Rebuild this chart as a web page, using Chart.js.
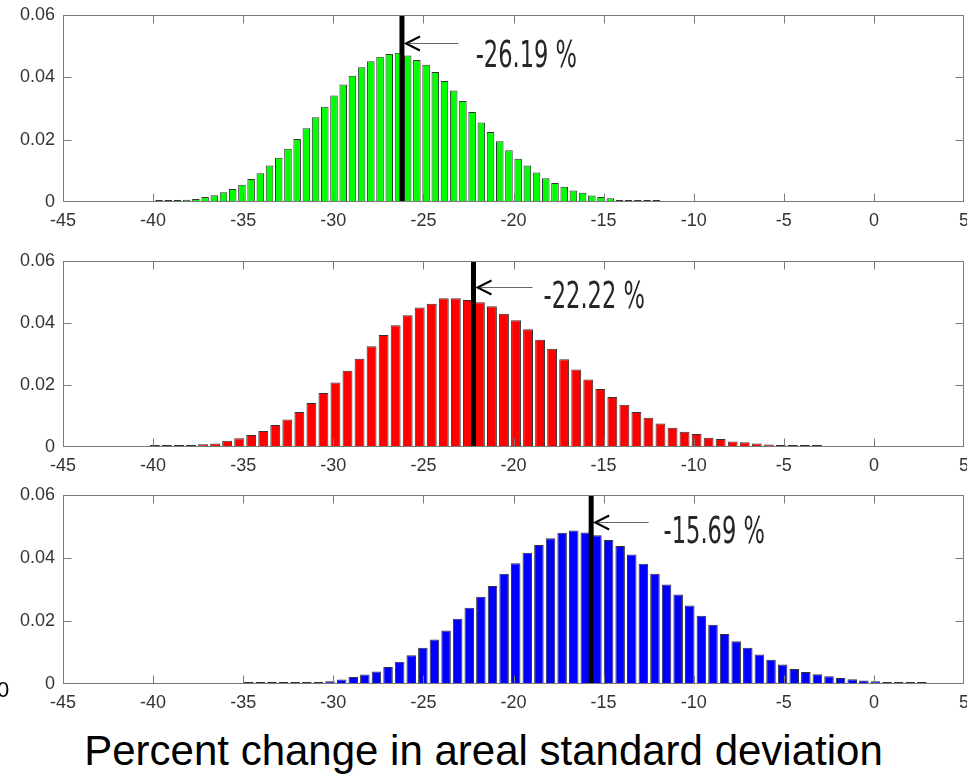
<!DOCTYPE html>
<html>
<head>
<meta charset="utf-8">
<script src="https://cdn.jsdelivr.net/npm/chart.js@4.4.0/dist/chart.umd.min.js"></script>
<style>
  html, body { margin: 0; padding: 0; background: #fff; }
  #wrap { position: relative; width: 967px; height: 776px; overflow: hidden; }
  .panel { position: absolute; left: 0; }
  #title { position: absolute; left: 0; top: 730px; width: 967px; text-align: center;
           font: 42px "Liberation Sans", Arial, sans-serif; line-height: 42px; color: #000; }
  #stray { position: absolute; left: -3px; top: 679px; font: 22px "Liberation Sans", Arial, sans-serif;
           line-height: 22px; color: #000; }
</style>
</head>
<body>
<div id="wrap">
  <canvas id="p1" class="panel" width="967" height="240" style="top:0px"></canvas>
  <canvas id="p2" class="panel" width="967" height="240" style="top:240px"></canvas>
  <canvas id="p3" class="panel" width="967" height="232" style="top:480px"></canvas>
  <div id="stray">0</div>
  <div id="title">Percent change in areal standard deviation</div>
</div>
<script>
// axis ticks shared by all three panels
const xTicks = [-45, -40, -35, -30, -25, -20, -15, -10, -5, 0, 5];
const yTicks = [0, 0.02, 0.04, 0.06];

// top panel (green)
const greenBinStart = -39.67, greenBinWidth = 0.511;
const greenValues = [0.0002,0.0003,0.0005,0.0007,0.0010,0.0016,0.0022,0.0031,0.0042,0.0055,
  0.0074,0.0092,0.0117,0.0142,0.0171,0.0202,0.0237,0.0272,0.0306,0.0342,
  0.0377,0.0405,0.0432,0.0452,0.0466,0.0475,0.0479,0.0470,0.0456,0.0440,
  0.0417,0.0388,0.0358,0.0324,0.0289,0.0255,0.0225,0.0195,0.0166,0.0139,
  0.0117,0.0095,0.0076,0.0061,0.0049,0.0037,0.0030,0.0021,0.0016,0.0012,
  0.0006,0.0004,0.0003,0.0002,0.0002];
const greenMean = -26.19;

// middle panel (red)
const redBinStart = -39.9, redBinWidth = 0.668;
const redValues = [0.0002,0.0002,0.0004,0.0006,0.0009,0.0011,0.0020,0.0028,0.0039,0.0052,
  0.0071,0.0089,0.0113,0.0142,0.0174,0.0208,0.0246,0.0285,0.0325,0.0361,
  0.0393,0.0425,0.0450,0.0462,0.0480,0.0480,0.0474,0.0467,0.0454,0.0430,
  0.0409,0.0380,0.0346,0.0317,0.0283,0.0250,0.0218,0.0187,0.0161,0.0136,
  0.0113,0.0094,0.0076,0.0062,0.0049,0.0042,0.0030,0.0026,0.0018,0.0015,
  0.0011,0.0008,0.0006,0.0004,0.0002,0.0002];
const redMean = -22.22;

// bottom panel (blue)
const blueBinStart = -34.69, blueBinWidth = 0.644;
const blueValues = [0.0001,0.0001,0.0001,0.0001,0.0004,0.0004,0.0006,0.0009,0.0014,0.0022,
  0.0030,0.0040,0.0054,0.0071,0.0091,0.0115,0.0141,0.0170,0.0207,0.0242,
  0.0277,0.0311,0.0350,0.0383,0.0417,0.0441,0.0463,0.0480,0.0487,0.0481,
  0.0472,0.0457,0.0438,0.0411,0.0382,0.0350,0.0316,0.0284,0.0249,0.0217,
  0.0188,0.0159,0.0136,0.0115,0.0094,0.0077,0.0062,0.0048,0.0038,0.0031,
  0.0025,0.0019,0.0015,0.0011,0.0009,0.0006,0.0005,0.0004,0.0002];
const blueMean = -15.69;

// box with inward tick marks, like the matlab axes
const framePlugin = {
  id: 'frame',
  afterDatasetsDraw(chart) {
    const { ctx, chartArea: a, scales: { x, y } } = chart;
    const L = Math.round(a.left) + 0.5, R = Math.round(a.right) - 0.5;
    const T = Math.round(a.top) + 0.5, B = Math.round(a.bottom) - 0.5;
    ctx.save();
    ctx.strokeStyle = '#7a7a7a';
    ctx.lineWidth = 1;
    ctx.strokeRect(L, T, R - L, B - T);
    ctx.beginPath();
    xTicks.slice(1, -1).forEach(v => {
      const px = Math.round(x.getPixelForValue(v)) + 0.5;
      ctx.moveTo(px, T); ctx.lineTo(px, T + 8);
      ctx.moveTo(px, B); ctx.lineTo(px, B - 8);
    });
    yTicks.slice(1, -1).forEach(v => {
      const py = Math.round(y.getPixelForValue(v)) + 0.5;
      ctx.moveTo(L, py); ctx.lineTo(L + 8, py);
      ctx.moveTo(R, py); ctx.lineTo(R - 8, py);
    });
    ctx.stroke();
    ctx.restore();
  }
};

// arrow + percentage label next to the mean line
const notePlugin = {
  id: 'note',
  afterDatasetsDraw(chart, args, o) {
    const { ctx, scales: { x, y } } = chart;
    const tip = x.getPixelForValue(o.mean) + 3;
    const ay = Math.round(y.getPixelForValue(o.arrowY)) + 0.5;
    const tail = x.getPixelForValue(o.tailX);
    ctx.save();
    ctx.strokeStyle = '#666';
    ctx.lineWidth = 1;
    ctx.beginPath();
    ctx.moveTo(tip + 4, ay); ctx.lineTo(tail, ay);
    ctx.stroke();
    ctx.strokeStyle = '#000';
    ctx.lineWidth = 2;
    ctx.beginPath();
    ctx.moveTo(tip + 15, ay - 7); ctx.lineTo(tip + 1, ay); ctx.lineTo(tip + 15, ay + 7);
    ctx.stroke();
    ctx.fillStyle = '#262626';
    ctx.font = '38px "Liberation Sans Narrow", "DejaVu Sans Condensed", sans-serif';
    ctx.textBaseline = 'alphabetic';
    ctx.translate(x.getPixelForValue(o.textX), y.getPixelForValue(o.textY));
    ctx.scale(0.66, 1);
    ctx.fillText(o.label, 0, 0);
    ctx.restore();
  }
};

const tickFont = { family: '"Liberation Sans", Arial, sans-serif', size: 18 };

function makePanel(id, binStart, binWidth, values, color, mean, note, top, axisH) {
  const bars = values.map((v, i) => ({ x: binStart + i * binWidth, y: v }));
  new Chart(document.getElementById(id), {
    type: 'bar',
    data: {
      datasets: [
        { type: 'line', data: [{ x: mean, y: 0 }, { x: mean, y: 0.06 }],
          borderColor: '#000', borderWidth: 5, pointRadius: 0, order: 0 },
        { data: bars, backgroundColor: color, borderColor: '#333', borderWidth: 1,
          minBarLength: 2, barPercentage: 0.82, categoryPercentage: 1, order: 1 }
      ]
    },
    options: {
      responsive: false,
      animation: false,
      layout: { autoPadding: false, padding: { left: 0, right: 3, top: top, bottom: 0 } },
      plugins: {
        legend: { display: false },
        tooltip: { enabled: false },
        note: Object.assign({ mean }, note)
      },
      scales: {
        x: {
          type: 'linear', min: -45, max: 5, offset: false,
          grid: { display: false, drawTicks: false, offset: false },
          border: { display: false },
          ticks: { stepSize: 5, autoSkip: false, maxRotation: 0, padding: 8,
                   color: '#333', font: tickFont },
          afterFit(s) { s.height = axisH; s.paddingLeft = 0; s.paddingRight = 0; }
        },
        y: {
          min: 0, max: 0.06,
          grid: { display: false, drawTicks: false },
          border: { display: false },
          ticks: { stepSize: 0.02, padding: 8, color: '#333', font: tickFont,
                   callback: v => v === 0 ? '0' : v.toFixed(2) },
          afterFit(s) { s.width = 63; s.paddingTop = 0; s.paddingBottom = 0; }
        }
      }
    },
    plugins: [framePlugin, notePlugin]
  });
}

makePanel('p1', greenBinStart, greenBinWidth, greenValues, '#00ff00', greenMean,
  { label: '-26.19 %', arrowY: 0.0510, tailX: -23.06, textX: -22.1, textY: 0.0433 }, 15, 38);
makePanel('p2', redBinStart, redBinWidth, redValues, '#ff0000', redMean,
  { label: '-22.22 %', arrowY: 0.0516, tailX: -18.94, textX: -18.33, textY: 0.0448 }, 21, 33);
makePanel('p3', blueBinStart, blueBinWidth, blueValues, '#0000ff', blueMean,
  { label: '-15.69 %', arrowY: 0.0514, tailX: -12.5, textX: -11.67, textY: 0.0448 }, 15, 28);
</script>
</body>
</html>
